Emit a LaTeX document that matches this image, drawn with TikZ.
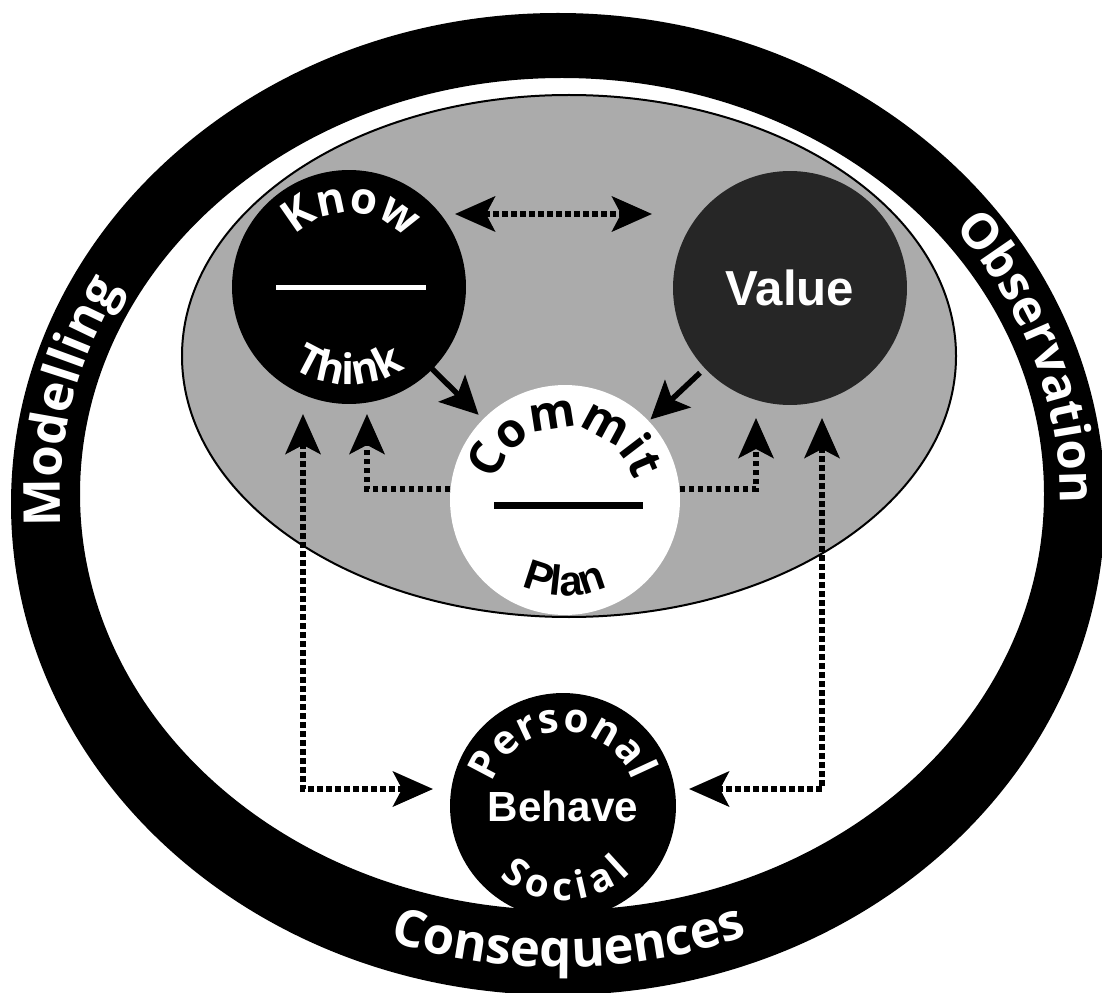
\documentclass[tikz,border=0pt]{standalone}
\usepackage{fontspec}
\usetikzlibrary{arrows.meta,calc,decorations.text}
\newfontfamily\ringfont{Open Sans}
\newfontfamily\headfont{Liberation Sans}

\begin{document}
\begin{tikzpicture}[x=0.02cm,y=0.02cm,
    >={Stealth[length=8mm,width=7mm,inset=1.8mm]},
    disc/.style={circle,inner sep=0pt,outer sep=0pt,minimum size=#1},
    dotflow/.style={line width=1.2mm,dash pattern=on 1.1mm off 0.7mm},
    pushflow/.style={line width=1.1mm,-{Stealth[length=7.5mm,width=7.5mm,inset=1.6mm]}},
    curved/.style={decorate,decoration={text along path,text align={#1}}}
  ]
  \useasboundingbox[fill=white] (0,0) rectangle (1102,992);

  % outer ring and the shaded field
  \fill[black,even odd rule] (558,488) ellipse [x radius=547,y radius=491]
    (562,498) ellipse [x radius=482,y radius=416];
  \filldraw[fill=black!33,draw=black,line width=0.4mm] (569,636) ellipse [x radius=387,y radius=261];

  % circles
  \node[disc=4.68cm,fill=black] (know) at (349,705) {};
  \node[disc=4.68cm,fill=black!85,text=white,font=\headfont\bfseries\fontsize{28}{28}\selectfont] (value) at (790,704) {Value};
  \node[disc=4.6cm,fill=white] (commit) at (565,492) {};
  \node[disc=4.52cm,fill=black,text=white,font=\headfont\bfseries\fontsize{24}{24}\selectfont] (personal) at (563,186) {Behave};

  % bars
  \draw[white,line width=1mm] ($(know)+(-73,-1)$) -- ($(know)+(77,-1)$);
  \draw[black,line width=1.4mm] ($(commit)+(-71,-5)$) -- ($(commit)+(78,-5)$);

  % curved labels in the circles
  \path[curved={fit to path},decoration={text={|\ringfont\bfseries\fontsize{25}{25}\selectfont\color{white}|Know}}]
    ($(know)+(136:74)$) arc[start angle=136,end angle=40,radius=74];
  \path[curved=center,decoration={text={|\ringfont\bfseries\fontsize{24}{24}\selectfont\color{white}|Think}}]
    ($(know)+(228:98)$) arc[start angle=228,end angle=312,radius=98];
  \path[curved=center,decoration={text={|\ringfont\bfseries\fontsize{27}{27}\selectfont|Commit}}]
    ($(commit)+(172:72)$) arc[start angle=172,end angle=8,radius=72];
  \path[curved=center,decoration={text={|\headfont\bfseries\fontsize{24}{24}\selectfont|Plan}}]
    ($(commit)+(228:96)$) arc[start angle=228,end angle=312,radius=96];
  \path[curved={fit to path},decoration={text={|\ringfont\bfseries\fontsize{23}{23}\selectfont\color{white}|Personal}}]
    ($(personal)+(162:74)$) arc[start angle=162,end angle=20,radius=74];
  \path[curved={fit to path},decoration={text={|\ringfont\bfseries\fontsize{22}{22}\selectfont\color{white}|Social}}]
    ($(personal)+(228:95)$) arc[start angle=228,end angle=316,radius=95];

  % ring labels
  \path[curved=center,decoration={text={|\ringfont\bfseries\fontsize{29}{29}\selectfont\color{white}|Modelling}}]
    ($(560,493)+(208:500 and 440)$) arc[start angle=208,end angle=128,x radius=500,y radius=440];
  \path[curved=center,decoration={text={|\ringfont\bfseries\fontsize{28}{28}\selectfont\color{white}|Observation}}]
    ($(560,493)+(58:500 and 440)$) arc[start angle=58,end angle=-22,x radius=500,y radius=440];
  \path[curved=center,decoration={text={|\ringfont\bfseries\fontsize{29}{29}\selectfont\color{white}|Consequences}}]
    ($(560,493)+(230:525 and 468)$) arc[start angle=230,end angle=312,x radius=525,y radius=468];

  % dotted links
  \draw[dotflow,<->] ($(know.east)+(-11,73)$) -- ($(value.west)+(-21,74)$);
  \draw[dotflow,<->] ($(know.south)+(-46,-10)$) |- ($(personal.west)+(-17,17)$);
  \draw[dotflow,->] ($(commit.west)+(0,11)$) -| ($(know.south)+(18,-10)$);
  \draw[dotflow,->] ($(commit.east)+(0,11)$) -| ($(value.south)+(-34,-13)$);
  \draw[dotflow,<->] ($(value.south)+(32,-13)$) |- ($(personal.east)+(13,17)$);

  % into commit
  \draw[pushflow] ($(know)!0.38!(commit)$) -- ($(know)!0.6!(commit)$);
  \draw[pushflow] ($(value)!0.4!(commit)$) -- ($(value)!0.62!(commit)$);
\end{tikzpicture}
\end{document}
